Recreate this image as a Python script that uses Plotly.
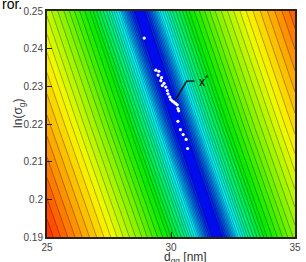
import numpy as np
import plotly.graph_objects as go

# --- data ---
# valley (minimum) centre line: d_gg [nm] at given ln(sigma_g)
valley_sigma = [0.19, 0.22, 0.25]
valley_dgg = [31.87, 30.28, 28.73]
# contour level (0..1 of colour range) versus distance [nm] from the valley centre
profile_dist = [0.0, 0.25, 0.45, 0.8, 1.3, 2.0, 3.0, 4.4, 5.8, 7.2]
profile_level = [0.0, 0.03, 0.10, 0.24, 0.37, 0.50, 0.62, 0.76, 0.88, 1.0]
# white sample points
pts_dgg = [28.92, 29.39, 29.51, 29.48, 29.62, 29.59, 29.72, 29.65, 29.79, 29.85, 29.88,
           29.95, 29.99, 30.05, 30.12, 30.19, 30.25, 30.28, 30.31, 30.28, 30.38, 30.49,
           30.61, 30.67]
pts_sigma = [0.2428, 0.2343, 0.2340, 0.2330, 0.2323, 0.2315, 0.2308, 0.2302, 0.2298,
             0.2289, 0.2280, 0.2272, 0.2265, 0.2261, 0.2258, 0.2254, 0.2251, 0.2241,
             0.2235, 0.2207, 0.2185, 0.2172, 0.2159, 0.2135]
x_ticks = [25, 30, 35]
y_ticks = [0.19, 0.20, 0.21, 0.22, 0.23, 0.24, 0.25]
y_tick_text = ["0.19", "0.2", "0.21", "0.22", "0.23", "0.24", "0.25"]
# leader line for the x* label
leader_dgg = [30.19, 30.63, 30.95]
leader_sigma = [0.2265, 0.2314, 0.2314]
label_pos = (31.35, 0.2313)

# --- field ---
gx = np.linspace(25, 35, 301)
gy = np.linspace(0.19, 0.25, 181)
X, Y = np.meshgrid(gx, gy)
centre = np.interp(Y, valley_sigma, valley_dgg)
Z = np.interp(np.abs(X - centre), profile_dist, profile_level)

colorscale = [
    [0.0, "rgb(0,0,235)"],
    [0.25, "rgb(0,240,255)"],
    [0.5, "rgb(0,235,0)"],
    [0.75, "rgb(250,250,0)"],
    [1.0, "rgb(255,20,0)"],
]

fig = go.Figure()
fig.add_trace(go.Contour(
    x=gx, y=gy, z=Z,
    colorscale=colorscale, zmin=0, zmax=1,
    contours=dict(start=0, end=1, size=0.025, coloring="fill"),
    line=dict(width=0.6, color="rgba(0,0,0,0.55)", smoothing=0),
    showscale=False, hoverinfo="skip",
))
fig.add_trace(go.Scatter(
    x=pts_dgg, y=pts_sigma, mode="markers",
    marker=dict(size=3.2, color="white", line=dict(width=0)),
    showlegend=False, hoverinfo="skip",
))
fig.add_trace(go.Scatter(
    x=leader_dgg, y=leader_sigma, mode="lines",
    line=dict(color="black", width=1.3),
    showlegend=False, hoverinfo="skip",
))

W, H = 306, 262
ml, mr, mt, mb = 47, 7, 5, 25
pw, ph = W - ml - mr, H - mt - mb

def px_x(p):
    return (p - ml) / pw

def px_y(p):
    return 1 - (p - mt) / ph

font_fam = "Liberation Sans, Arial, sans-serif"
fig.update_layout(
    width=W, height=H,
    margin=dict(l=ml, r=mr, t=mt, b=mb, pad=0),
    paper_bgcolor="white", plot_bgcolor="white",
    showlegend=False,
    font=dict(family=font_fam, size=10, color="#444"),
    xaxis=dict(range=[25, 35], tickvals=x_ticks, ticktext=[str(v) for v in x_ticks],
               ticks="inside", ticklen=5, tickwidth=1, tickcolor="#222",
               showline=True, linewidth=2, linecolor="#2a2018", mirror=True,
               showgrid=False, zeroline=False),
    yaxis=dict(range=[0.19, 0.25], tickvals=y_ticks, ticktext=y_tick_text,
               ticks="inside", ticklen=5, tickwidth=1, tickcolor="#222",
               showline=True, linewidth=2, linecolor="#2a2018", mirror=True,
               showgrid=False, zeroline=False),
    annotations=[
        dict(text="x<sup>*</sup>", x=label_pos[0], y=label_pos[1], xref="x", yref="y",
             showarrow=False, font=dict(size=12, color="black", family=font_fam)),
        dict(text="d<sub>gg</sub> [nm]", x=px_x(188), y=px_y(248), xref="paper", yref="paper",
             yanchor="top", showarrow=False, font=dict(size=12, color="#333", family=font_fam)),
        dict(text="ln(σ<sub>g</sub>)", x=px_x(9), y=px_y(110), xref="paper", yref="paper",
             textangle=-90, showarrow=False, font=dict(size=12, color="#333", family=font_fam)),
        dict(text="ror.", x=px_x(-1), y=px_y(8), xref="paper", yref="paper",
             xanchor="left", yanchor="bottom", showarrow=False,
             font=dict(size=14, color="black", family=font_fam)),
    ],
)
fig.write_html("out.html")
